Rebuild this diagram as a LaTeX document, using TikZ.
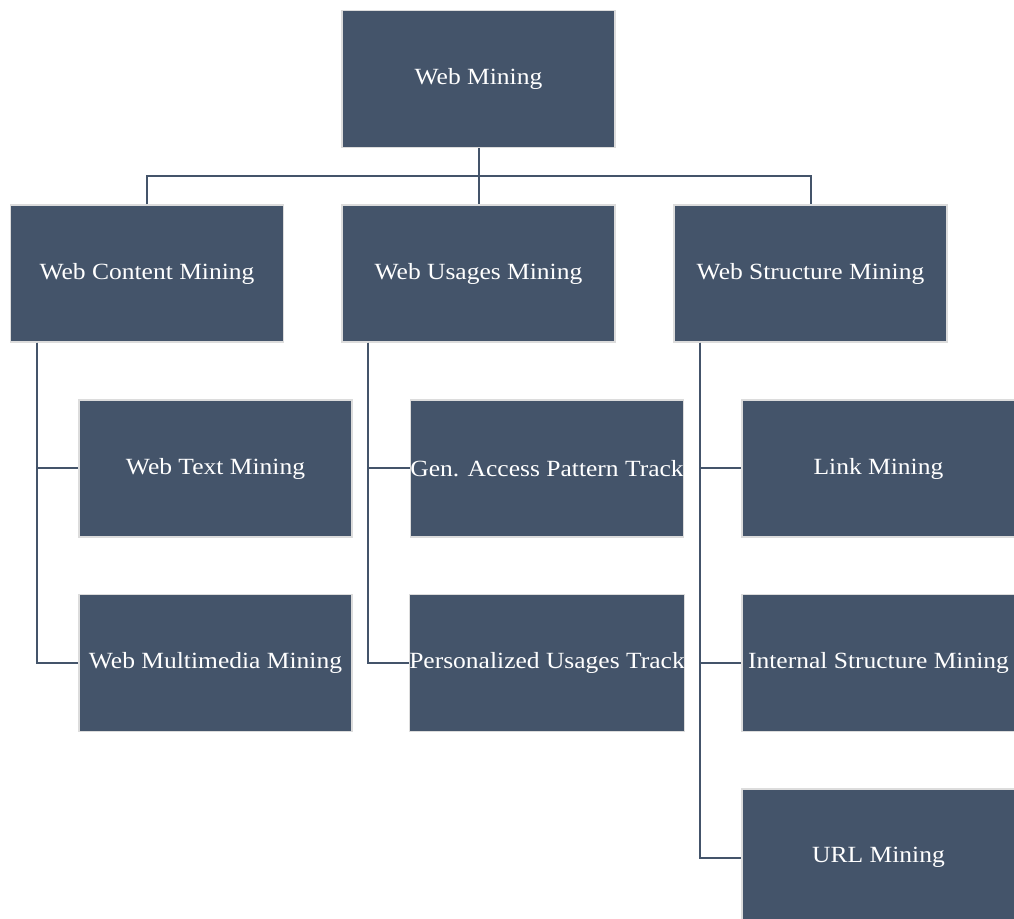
\documentclass[tikz,border=0pt]{standalone}
\usepackage{fontspec}
\setmainfont{Liberation Serif}[FakeStretch=1.1]
\definecolor{boxfill}{HTML}{44546A}
\definecolor{boxrim}{HTML}{DCDCDC}
\definecolor{wire}{HTML}{44546A}
\begin{document}
\begin{tikzpicture}[x=0.75pt,y=-0.75pt,
  box/.style={rectangle, fill=boxfill, draw=boxrim, line width=0.8pt,
    text=white, inner sep=0pt, minimum width=204.75pt, minimum height=102.75pt,
    font=\fontsize{17.4pt}{20pt}\selectfont},
  link/.style={draw=wire, line width=1.5pt}]
\useasboundingbox (0,0) rectangle (1014,919);
\clip (0,0) rectangle (1014,919);

% root and first level
\node[box] (wm) at (478.5,79) {Web Mining};
\node[box] (wc) at (147,273.5) {Web Content Mining};
\node[box] (wu) at (478.5,273.5) {Web Usages Mining};
\node[box] (ws) at (810.5,273.5) {Web Structure Mining};

% second level
\node[box] (wt)  at (215.5,468.5) {Web Text Mining};
\node[box] (wmm) at (215.5,663) {Web Multimedia Mining};
\node[box] (ga)  at (547,468.5) {Gen. Access Pattern Track};
\node[box] (pu)  at (547,663) {Personalized Usages Track};
\node[box] (lm)  at (878.5,468.5) {Link Mining};
\node[box] (ism) at (878.5,663) {Internal Structure Mining};
\node[box] (url) at (878.5,857.5) {URL Mining};

% bus under the root
\coordinate (bus) at (478.5,176);
\draw[link] (wm.south) -- (wu.north);
\draw[link] (wc.north) |- (bus) -| (ws.north);

% trunks down the left side of each branch
\coordinate (wct) at ([xshift=20.25pt]wc.south west);
\coordinate (wut) at ([xshift=20.25pt]wu.south west);
\coordinate (wst) at ([xshift=20.25pt]ws.south west);
\draw[link] (wct) |- (wt.west);
\draw[link] (wct) |- (wmm.west);
\draw[link] (wut) |- (ga.west);
\draw[link] (wut) |- (pu.west);
\draw[link] (wst) |- (lm.west);
\draw[link] (wst) |- (ism.west);
\draw[link] (wst) |- (url.west);
\end{tikzpicture}
\end{document}
